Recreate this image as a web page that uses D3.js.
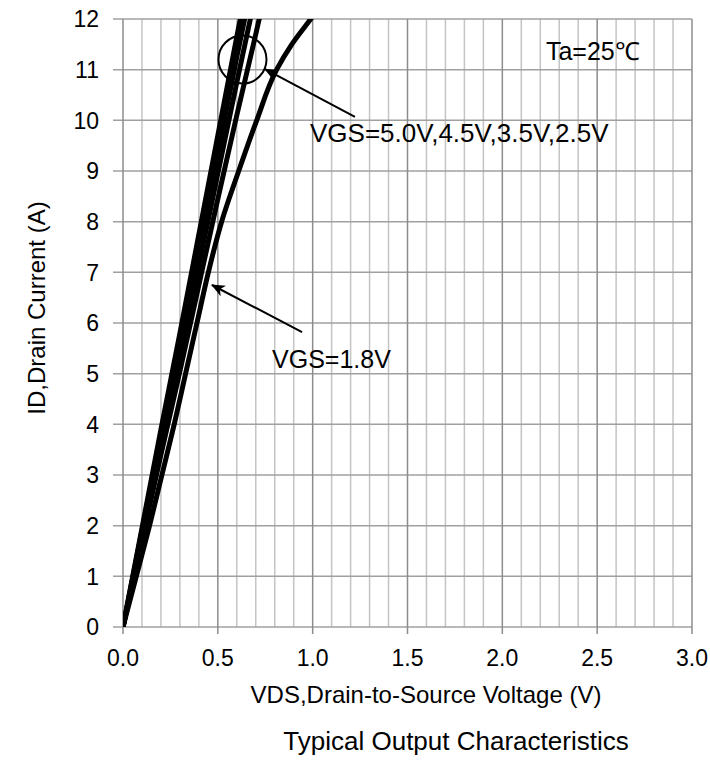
<!DOCTYPE html>
<html>
<head>
<meta charset="utf-8">
<script src="https://cdn.jsdelivr.net/npm/d3@7"></script>
<style>
  body { margin: 0; background: #fff; }
  text { font-family: "Liberation Sans", Arial, sans-serif; fill: #000; }
</style>
</head>
<body>
<div id="chart"></div>
<script>
// tick values
var vdsTicks = [0, 0.5, 1.0, 1.5, 2.0, 2.5, 3.0];
var vdsMinor = [0.1, 0.2, 0.3, 0.4, 0.6, 0.7, 0.8, 0.9, 1.1, 1.2, 1.3, 1.4, 1.6, 1.7, 1.8, 1.9,
                2.1, 2.2, 2.3, 2.4, 2.6, 2.7, 2.8, 2.9];
var idTicks = [0, 1, 2, 3, 4, 5, 6, 7, 8, 9, 10, 11, 12];

// curves (VDS in V, ID in A)
var vds50 = [0, 0.1, 0.2, 0.3, 0.4, 0.5, 0.6, 0.65];
var id50  = [0, 1.95, 3.9, 5.8, 7.75, 9.7, 11.65, 12.6];
var vds45 = [0, 0.1, 0.2, 0.3, 0.4, 0.5, 0.6, 0.68];
var id45  = [0, 1.9, 3.75, 5.6, 7.5, 9.35, 11.25, 12.7];
var vds35 = [0, 0.1, 0.2, 0.3, 0.4, 0.5, 0.6, 0.7];
var id35  = [0, 1.8, 3.6, 5.4, 7.15, 8.95, 10.75, 12.5];
var vds25 = [0, 0.1, 0.2, 0.3, 0.4, 0.5, 0.6, 0.7, 0.76];
var id25  = [0, 1.7, 3.4, 5.05, 6.75, 8.45, 10.1, 11.7, 12.7];
var vds18 = [0, 0.07, 0.14, 0.205, 0.27, 0.33, 0.39, 0.45, 0.52, 0.61, 0.705, 0.81, 0.89, 0.99, 1.03];
var id18  = [0, 1, 2, 3, 4, 5, 6, 7, 8, 9, 10, 11, 11.5, 12, 12.2];

var curves = [
  {vgs: "5.0V", x: vds50, y: id50},
  {vgs: "4.5V", x: vds45, y: id45},
  {vgs: "3.5V", x: vds35, y: id35},
  {vgs: "2.5V", x: vds25, y: id25},
  {vgs: "1.8V", x: vds18, y: id18}
];

var margin = {top: 19, right: 18, bottom: 136, left: 123};
var W = 710, H = 763;
var width = W - margin.left - margin.right;
var height = H - margin.top - margin.bottom;

var svg = d3.select("#chart").append("svg")
  .attr("width", W)
  .attr("height", H);

var g = svg.append("g")
  .attr("transform", "translate(" + margin.left + "," + margin.top + ")");

var x = d3.scaleLinear().domain([0, 3]).range([0, width]);
var y = d3.scaleLinear().domain([0, 12]).range([height, 0]);

// minor vertical grid
g.append("g").selectAll("line")
  .data(vdsMinor)
  .enter().append("line")
  .attr("x1", function(d) { return x(d); })
  .attr("x2", function(d) { return x(d); })
  .attr("y1", 0).attr("y2", height)
  .attr("stroke", "#c4c4c4").attr("stroke-width", 1.5);

// horizontal grid + y ticks
g.append("g").selectAll("line")
  .data(idTicks)
  .enter().append("line")
  .attr("x1", -10).attr("x2", width)
  .attr("y1", function(d) { return y(d); })
  .attr("y2", function(d) { return y(d); })
  .attr("stroke", "#a0a0a0").attr("stroke-width", 1.5);

// major vertical grid + x ticks
g.append("g").selectAll("line")
  .data(vdsTicks)
  .enter().append("line")
  .attr("x1", function(d) { return x(d); })
  .attr("x2", function(d) { return x(d); })
  .attr("y1", 0).attr("y2", height + 7)
  .attr("stroke", "#8c8c8c").attr("stroke-width", 1.5);

// tick labels
g.append("g").selectAll("text")
  .data(vdsTicks)
  .enter().append("text")
  .attr("x", function(d) { return x(d); })
  .attr("y", height + 39)
  .attr("text-anchor", "middle")
  .style("font-size", "23px")
  .text(function(d) { return d3.format(".1f")(d); });

g.append("g").selectAll("text")
  .data(idTicks)
  .enter().append("text")
  .attr("x", -24)
  .attr("y", function(d) { return y(d); })
  .attr("dy", "0.36em")
  .attr("text-anchor", "end")
  .style("font-size", "23px")
  .text(function(d) { return d; });

// curves
svg.append("defs").append("clipPath").attr("id", "clip")
  .append("rect").attr("width", width).attr("height", height);

var line = d3.line()
  .x(function(d) { return x(d[0]); })
  .y(function(d) { return y(d[1]); })
  .curve(d3.curveMonotoneY);

g.append("g").attr("clip-path", "url(#clip)")
  .selectAll("path")
  .data(curves)
  .enter().append("path")
  .attr("d", function(c) { return line(d3.zip(c.x, c.y)); })
  .attr("fill", "none")
  .attr("stroke", "#000")
  .attr("stroke-width", 5)
  .attr("stroke-linejoin", "round");

// annotations
svg.select("defs").append("marker")
  .attr("id", "arrow")
  .attr("viewBox", "0 -6 14 12")
  .attr("refX", 13).attr("refY", 0)
  .attr("markerWidth", 14).attr("markerHeight", 12)
  .attr("markerUnits", "userSpaceOnUse")
  .attr("orient", "auto")
  .append("path")
  .attr("d", "M0,-6L14,0L0,6L4,0Z")
  .attr("fill", "#000");

g.append("circle")
  .attr("cx", x(0.63)).attr("cy", y(11.2)).attr("r", 24)
  .attr("fill", "none").attr("stroke", "#000").attr("stroke-width", 2);

g.append("line")
  .attr("x1", x(1.223)).attr("y1", y(10.07))
  .attr("x2", x(0.749)).attr("y2", y(11.01))
  .attr("stroke", "#000").attr("stroke-width", 2)
  .attr("marker-end", "url(#arrow)");

g.append("line")
  .attr("x1", x(0.944)).attr("y1", y(5.82))
  .attr("x2", x(0.469)).attr("y2", y(6.75))
  .attr("stroke", "#000").attr("stroke-width", 2)
  .attr("marker-end", "url(#arrow)");

g.append("text")
  .attr("x", x(0.986)).attr("y", y(9.57))
  .style("font-size", "26px")
  .text("VGS=5.0V,4.5V,3.5V,2.5V");

g.append("text")
  .attr("x", x(0.786)).attr("y", y(5.11))
  .style("font-size", "25px")
  .text("VGS=1.8V");

g.append("text")
  .attr("x", x(2.23)).attr("y", y(11.2))
  .style("font-size", "25px")
  .text("Ta=25℃");

// axis titles
svg.append("text")
  .attr("x", 426).attr("y", 703)
  .attr("text-anchor", "middle")
  .style("font-size", "24px")
  .text("VDS,Drain-to-Source Voltage (V)");

svg.append("text")
  .attr("transform", "translate(45," + 308 + ") rotate(-90)")
  .attr("text-anchor", "middle")
  .style("font-size", "24px")
  .text("ID,Drain Current (A)");

svg.append("text")
  .attr("x", 456).attr("y", 750)
  .attr("text-anchor", "middle")
  .style("font-size", "26px")
  .text("Typical Output Characteristics");
</script>
</body>
</html>
